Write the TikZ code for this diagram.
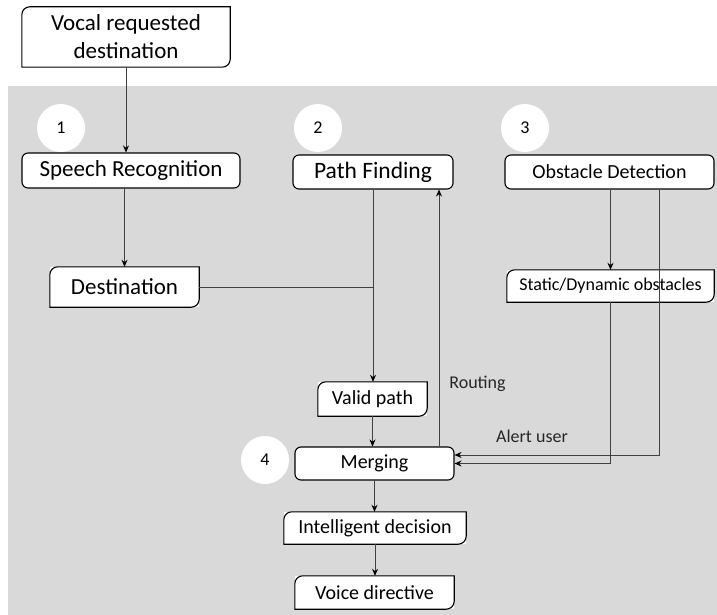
\documentclass[tikz,border=0pt]{standalone}
\usepackage{fontspec}
\setmainfont{Carlito}
\usetikzlibrary{arrows.meta,calc}

\tikzset{
  boxtext/.style={inner sep=0pt, align=center, text=black},
  rbox/.style={boxtext, fill=white, draw=black, line width=1.1pt, rounded corners=6pt},
  dbox/.style={boxtext, fill=white, draw=none},
  outline/.style={draw=black, line width=1.1pt},
  conn/.style={draw=black!75, line width=0.8pt},
  arr/.style={conn, -{Stealth[length=7pt,width=6pt,black]}},
  badge/.style={circle, fill=white, draw=none, minimum size=48pt, inner sep=0pt, font=\fontsize{18}{20}\selectfont},
  lbl/.style={inner sep=0pt, font=\fontsize{18}{20}\selectfont, text=black!85},
}

% outline with the top-left and bottom-right corners rounded
\newcommand{\diagoutline}[1]{%
  \draw[outline] (#1.south west) -- ([yshift=-8pt]#1.north west)
    arc[start angle=180, end angle=90, radius=8pt] -- (#1.north east)
    -- ([yshift=8pt]#1.south east)
    arc[start angle=0, end angle=-90, radius=8pt] -- cycle;}

\begin{document}
\begin{tikzpicture}[x=1pt, y=1pt]
  \useasboundingbox (0,0) rectangle (717,-615);
  \fill[white] (0,0) rectangle (717,-615);
  % shaded processing area
  \fill[fill={rgb,255:red,217;green,217;blue,217}] (8,-86) rectangle (717,-615);

  % stage badges
  \node[badge] (b1) at (61,-128) {1};
  \node[badge] (b2) at (318,-128) {2};
  \node[badge] (b3) at (525,-128) {3};
  \node[badge] (b4) at (265,-460) {4};

  % boxes
  \node[dbox, minimum width=208pt, minimum height=60pt, font=\fontsize{23}{28}\selectfont]
    (vocal) at (126,-37) {Vocal requested\\destination};
  \node[rbox, minimum width=218pt, minimum height=35pt, font=\fontsize{23}{26}\selectfont]
    (speech) at (131,-170.5) {Speech Recognition};
  \node[rbox, minimum width=160pt, minimum height=34pt, font=\fontsize{23.5}{26}\selectfont]
    (path) at (373,-172) {Path Finding};
  \node[rbox, minimum width=209pt, minimum height=34pt, font=\fontsize{20}{24}\selectfont]
    (obstacle) at (609.5,-172) {Obstacle Detection};
  \node[dbox, minimum width=207pt, minimum height=32pt, font=\fontsize{18}{22}\selectfont]
    (static) at (610.5,-286) {Static/Dynamic obstacles};
  \node[dbox, minimum width=149pt, minimum height=40pt, font=\fontsize{23}{26}\selectfont]
    (dest) at (124.5,-287) {Destination};
  \node[dbox, minimum width=109pt, minimum height=34pt, font=\fontsize{20}{24}\selectfont]
    (valid) at (372.5,-399) {Valid path};
  \node[rbox, minimum width=159pt, minimum height=33pt, font=\fontsize{20}{24}\selectfont]
    (merging) at (374.5,-463.5) {Merging};
  \node[dbox, minimum width=182pt, minimum height=32pt, font=\fontsize{20}{24}\selectfont]
    (intel) at (375,-528) {Intelligent decision};
  \node[dbox, minimum width=159pt, minimum height=33pt, font=\fontsize{20}{24}\selectfont]
    (voice) at (374.5,-592.5) {Voice directive};

  \diagoutline{vocal}
  \diagoutline{static}
  \diagoutline{dest}
  \diagoutline{valid}
  \diagoutline{intel}
  \diagoutline{voice}

  % helper x positions for the side routes
  \coordinate (rx) at (439,0);
  \coordinate (ax) at (659,0);

  % connectors
  \draw[arr] (vocal.south) -- (vocal.south |- speech.north);
  \draw[arr] (dest.north |- speech.south) -- (dest.north);
  \draw[arr] (path.south) -- (path.south |- valid.north);
  \draw[conn] (dest.east) -- (path.south |- dest.east);
  \draw[arr] (valid.south) -- (valid.south |- merging.north);
  \draw[arr] (merging.north -| rx) -- (path.south -| rx);
  \draw[arr] (static.north |- obstacle.south) -- (static.north);
  \draw[arr] (obstacle.south -| ax) |- ([yshift=8.5pt]merging.east);
  \draw[arr] (static.south) |- (merging.east);
  \draw[arr] (merging.south) -- (merging.south |- intel.north);
  \draw[arr] (intel.south) -- (intel.south |- voice.north);

  % connector labels
  \node[lbl] (routing) at (477.5,-384) {Routing};
  \node[lbl] (alert) at (532,-436) {Alert user};
\end{tikzpicture}
\end{document}
